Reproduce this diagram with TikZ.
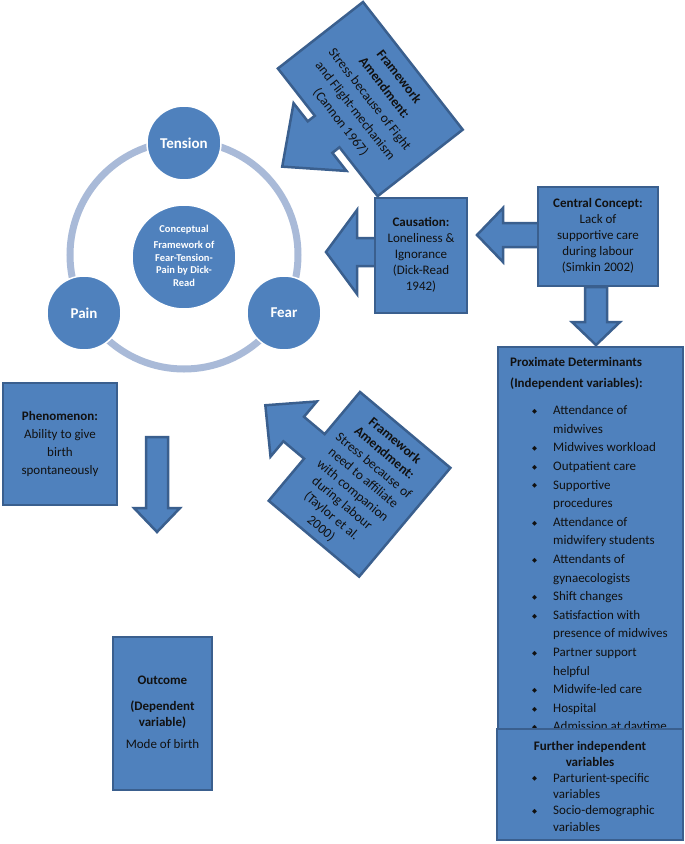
\documentclass[tikz,border=0pt]{standalone}
\usepackage{fontspec}
\setmainfont{Carlito}
\newfontfamily\djv{DejaVu Sans}
\definecolor{bfill}{HTML}{4F81BD}
\definecolor{bline}{HTML}{3A5F8E}
\definecolor{ringc}{HTML}{A9BAD8}
\definecolor{txt}{HTML}{111111}
\newcommand{\bul}{\makebox[21pt][l]{\raisebox{1.3pt}{\djv\fontsize{6.5}{7}\selectfont ◆}}}
\begin{document}
\begin{tikzpicture}[x=1pt,y=-1pt,
  blk/.style={fill=bfill,draw=bline,line width=2.5pt,line join=miter},
  box/.style={blk,inner sep=0pt,text=txt,align=center,font=\fontsize{13}{16}\selectfont},
  circ/.style={circle,fill=bfill,draw=white,line width=1.5pt,inner sep=0pt,text=white,font=\bfseries\fontsize{15}{18}\selectfont},
  ring/.style={draw=ringc,line width=7pt},
  lbl/.style={inner sep=0pt,text=txt}]
\fill[white] (0,0) rectangle (685,844);
\useasboundingbox (0,0) rectangle (685,844);

% cycle
\draw[ring] (184,255) circle (114);
\node[circ,minimum size=74pt] (tension) at (184,143) {Tension};
\node[circ,minimum size=74pt] (pain) at (84,313) {Pain};
\node[circ,minimum size=74pt] (fear) at (284,313) {Fear};
\node[circ,minimum size=104pt,font=\bfseries\fontsize{10.5}{12.5}\selectfont] (concept) at (184,257)
  {\begin{tabular}{@{}c@{}}Conceptual\\[3.5pt]Framework of\\Fear-Tension-\\Pain by Dick-\\Read\end{tabular}};

% arrows between causation / central concept
\draw[blk] (540,223) -- (503,223) -- (503,208) -- (477,235) -- (503,262) -- (503,247) -- (540,247) -- cycle;
\draw[blk] (376,238) -- (357,238) -- (357,210) -- (326,252) -- (357,294) -- (357,266) -- (376,266) -- cycle;

\node[box,minimum width=92pt,minimum height=115pt] (caus) at (421,255.5)
  {\begin{tabular}{@{}c@{}}\textbf{Causation:}\\Loneliness \&\\Ignorance\\(Dick-Read\\1942)\end{tabular}};
\node[box,minimum width=120pt,minimum height=99pt] (central) at (598,236.5)
  {\begin{tabular}{@{}c@{}}\textbf{Central Concept:}\\Lack of\\supportive care\\during labour\\(Simkin 2002)\end{tabular}};

\draw[blk] (585,287) -- (607,287) -- (607,322) -- (620,322) -- (596,345) -- (572,322) -- (585,322) -- cycle;

% proximate determinants
\node[blk,minimum width=185pt,minimum height=413pt,inner sep=0pt] (prox) at (590.5,553.5) {};
\node[lbl,anchor=north west,font=\bfseries\fontsize{13}{21}\selectfont] (ptitle) at (510,351.3)
  {\begin{tabular}{@{}l@{}}Proximate Determinants\\(Independent variables):\end{tabular}};
\node[lbl,anchor=north west,font=\fontsize{13}{18.6}\selectfont] (plist) at (532,401.5)
  {\begin{tabular}{@{}l@{}l@{}}
  \bul & Attendance of\\
       & midwives\\
  \bul & Midwives workload\\
  \bul & Outpatient care\\
  \bul & Supportive\\
       & procedures\\
  \bul & Attendance of\\
       & midwifery students\\
  \bul & Attendants of\\
       & gynaecologists\\
  \bul & Shift changes\\
  \bul & Satisfaction with\\
       & presence of midwives\\
  \bul & Partner support\\
       & helpful\\
  \bul & Midwife-led care\\
  \bul & Hospital\\
  \bul & Admission at daytime
  \end{tabular}};

\node[blk,minimum width=186pt,minimum height=111pt,inner sep=0pt] (further) at (590,784.5) {};
\node[lbl,anchor=north,font=\bfseries\fontsize{13}{16}\selectfont] (ftitle) at (590,738.8)
  {\begin{tabular}{@{}c@{}}Further independent\\variables\end{tabular}};
\node[lbl,anchor=north west,font=\fontsize{13}{16.3}\selectfont] (flist) at (532,770.6)
  {\begin{tabular}{@{}l@{}l@{}}
  \bul & Parturient-specific\\
       & variables\\
  \bul & Socio-demographic\\
       & variables
  \end{tabular}};

% framework amendment 1
\begin{scope}[shift={(363,2)},rotate=-52]
  \draw[blk] (0,0) -- (162,0) -- (162,108) -- (100,108) -- (100,117) -- (123,117) -- (80,165)
     -- (37,117) -- (60,117) -- (60,108) -- (0,108) -- cycle;
  \node[lbl,transform shape,font=\fontsize{13.5}{18.5}\selectfont] (amend1) at (81,55)
    {\begin{tabular}{@{}c@{}}\textbf{Framework}\\\textbf{Amendment:}\\Stress because of Fight\\and Flight-mechanism\\(Cannon 1967)\end{tabular}};
\end{scope}

% framework amendment 2
\begin{scope}[shift={(360,392)},rotate=-40]
  \draw[blk] (0,0) -- (118,0) -- (118,142) -- (0,142) -- (0,87) -- (-27,87) -- (-27,107)
     -- (-64,71) -- (-27,35) -- (-27,55) -- (0,55) -- cycle;
  \node[lbl,transform shape,font=\fontsize{13.5}{16.4}\selectfont] (amend2) at (58,73)
    {\begin{tabular}{@{}c@{}}\textbf{Framework}\\\textbf{Amendment:}\\Stress because of\\need to affiliate\\with companion\\during labour\\(Taylor et al.\\2000)\end{tabular}};
\end{scope}

% phenomenon and outcome
\node[box,minimum width=114pt,minimum height=122pt,font=\fontsize{13}{18}\selectfont] (phen) at (60,444)
  {\begin{tabular}{@{}c@{}}\textbf{Phenomenon:}\\Ability to give\\birth\\spontaneously\end{tabular}};
\draw[blk] (146,437) -- (168,437) -- (168,508) -- (180,508) -- (157,532) -- (134,508) -- (146,508) -- cycle;
\node[box,minimum width=99pt,minimum height=153pt] (outcome) at (162.5,713.5)
  {\begin{tabular}{@{}c@{}}\textbf{Outcome}\\[10pt]\textbf{(Dependent}\\\textbf{variable)}\\[6pt]Mode of birth\end{tabular}};
\end{tikzpicture}
\end{document}
